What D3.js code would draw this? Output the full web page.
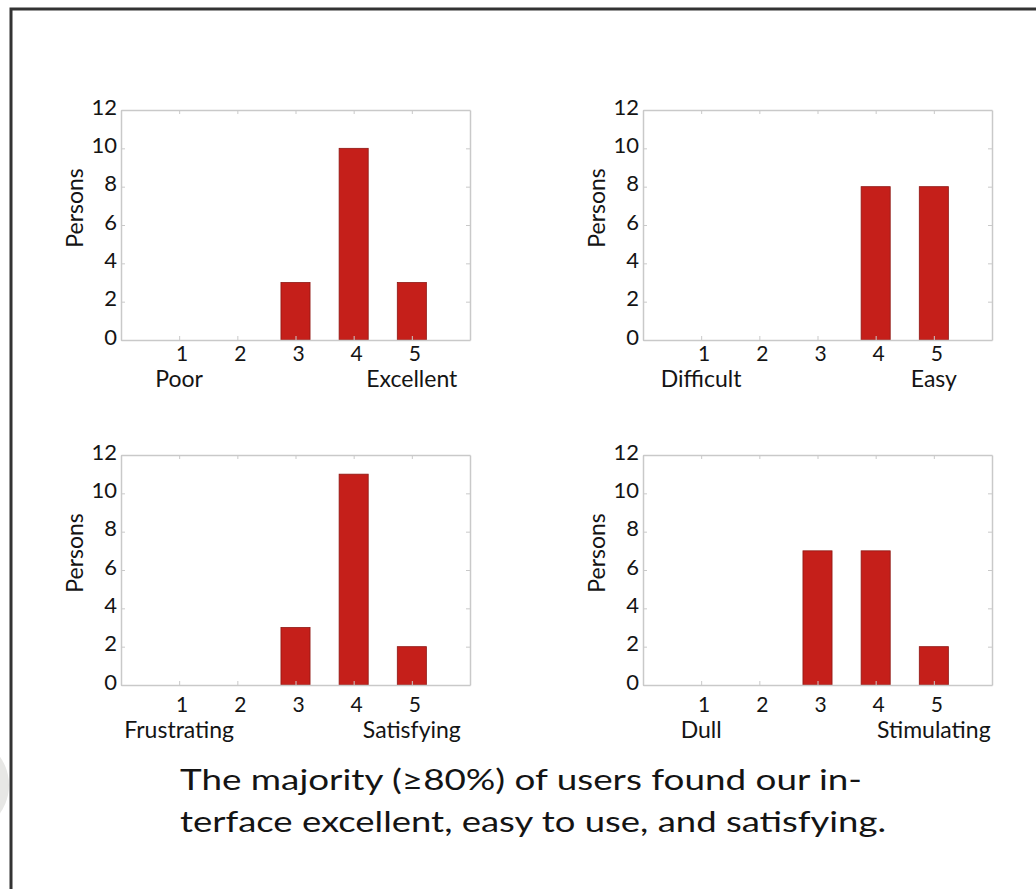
<!DOCTYPE html>
<html>
<head>
<meta charset="utf-8">
<script src="https://cdn.jsdelivr.net/npm/d3@7"></script>
<style>
  html, body { margin: 0; padding: 0; background: #ffffff; }
  svg { display: block; }
</style>
</head>
<body>
<svg id="chart" width="1036" height="890"></svg>
<script>
// ---- data ----
const ratings = [1, 2, 3, 4, 5];
const excellentCounts = [0, 0, 3, 10, 3];
const easyCounts = [0, 0, 0, 8, 8];
const satisfyingCounts = [0, 0, 3, 11, 2];
const stimulatingCounts = [0, 0, 7, 7, 2];
const lowLabels = ["Poor", "Difficult", "Frustrating", "Dull"];
const highLabels = ["Excellent", "Easy", "Satisfying", "Stimulating"];
const yTicks = [0, 2, 4, 6, 8, 10, 12];
const yLabel = "Persons";
const captionLines = [
  "The majority (\u226580%) of users found our in-",
  "terface excellent, easy to use, and satisfying."
];

const seriesList = [excellentCounts, easyCounts, satisfyingCounts, stimulatingCounts];

// ---- layout ----
const svg = d3.select("#chart");
const FONT = "Lato, 'Noto Sans', 'DejaVu Sans', sans-serif";
const textColor = "#141414";
const barColor = "#c51f1a";
const barEdge = "#8e1713";
const axisColor = "#c9c9c9";

// faint decorative circle at the left edge
svg.append("circle").attr("cx", -40).attr("cy", 785).attr("r", 49).attr("fill", "#e7e7e5");

// slide frame
svg.append("path")
  .attr("d", "M11,889 L11,9 L1036,9")
  .attr("fill", "none").attr("stroke", "#333").attr("stroke-width", 3);

const panels = [
  { x: 121, y: 110, numOff: 14, labOff: 39 },
  { x: 643, y: 110, numOff: 14, labOff: 39 },
  { x: 121, y: 455, numOff: 20, labOff: 45 },
  { x: 643, y: 455, numOff: 20, labOff: 45 }
];
const W = 349, H = 230;

const x = d3.scaleLinear().domain([0, 6]).range([0, W]);
const y = d3.scaleLinear().domain([0, 12]).range([H, 0]);
const barW = x(0.5) - x(0);

panels.forEach((p, i) => {
  const g = svg.append("g").attr("transform", `translate(${p.x},${p.y})`);
  const data = ratings.map((r, k) => ({ r, v: seriesList[i][k] }));

  // bars
  g.selectAll("rect.bar").data(data.filter(d => d.v > 0)).enter().append("rect")
    .attr("class", "bar")
    .attr("x", d => x(d.r) - barW / 2)
    .attr("width", barW)
    .attr("y", d => y(d.v))
    .attr("height", d => y(0) - y(d.v))
    .attr("fill", barColor)
    .attr("stroke", barEdge)
    .attr("stroke-width", 0.8);

  // axes: ticks only (inward), labels handled separately
  const axL = d3.axisLeft(y).tickValues(yTicks).tickSizeInner(-4).tickSizeOuter(0).tickFormat("");
  const axR = d3.axisRight(y).tickValues(yTicks).tickSizeInner(-4).tickSizeOuter(0).tickFormat("");
  const axB = d3.axisBottom(x).tickValues(ratings).tickSizeInner(-4).tickSizeOuter(0).tickFormat("");
  const axT = d3.axisTop(x).tickValues(ratings).tickSizeInner(-4).tickSizeOuter(0).tickFormat("");
  [[axL, `translate(0,0)`], [axR, `translate(${W},0)`], [axB, `translate(0,${H})`], [axT, `translate(0,0)`]]
    .forEach(([ax, tr]) => {
      const a = g.append("g").attr("transform", tr).call(ax);
      a.selectAll("path.domain").attr("stroke", axisColor).attr("stroke-width", 1.5);
      a.selectAll(".tick line").attr("stroke", axisColor).attr("stroke-width", 1);
    });

  // y tick labels
  g.selectAll("text.ytl").data(yTicks).enter().append("text")
    .attr("class", "ytl")
    .attr("x", -4)
    .attr("y", d => y(d) - 3)
    .attr("dy", "0.35em")
    .attr("text-anchor", "end")
    .attr("font-family", FONT).attr("font-size", 22)
    .attr("fill", textColor)
    .text(d => d);

  // x tick labels (numbers)
  g.selectAll("text.xtl").data(ratings).enter().append("text")
    .attr("class", "xtl")
    .attr("x", d => x(d) + 3)
    .attr("y", H + p.numOff)
    .attr("dy", "0.35em")
    .attr("text-anchor", "middle")
    .attr("font-family", FONT).attr("font-size", 21)
    .attr("fill", textColor)
    .text(d => d);

  // end labels under ticks 1 and 5
  [[ratings[0], lowLabels[i]], [ratings[ratings.length - 1], highLabels[i]]].forEach(([r, t]) => {
    g.append("text")
      .attr("x", x(r))
      .attr("y", H + p.labOff)
      .attr("dy", "0.35em")
      .attr("text-anchor", "middle")
      .attr("font-family", FONT).attr("font-size", 23)
      .attr("fill", textColor)
      .text(t);
  });

  // y axis title
  g.append("text")
    .attr("transform", `translate(${-46},${H / 2 - 17}) rotate(-90)`)
    .attr("dy", "0.35em")
    .attr("text-anchor", "middle")
    .attr("font-family", FONT).attr("font-size", 23)
    .attr("fill", textColor)
    .text(yLabel);
});

// caption
const capY = [780, 822];
const capLen = [682, 706];
captionLines.forEach((t, k) => {
  svg.append("text")
    .attr("x", 180)
    .attr("y", capY[k])
    .attr("dy", "0.35em")
    .attr("font-family", FONT).attr("font-size", 29)
    .attr("fill", textColor)
    .attr("textLength", capLen[k])
    .attr("lengthAdjust", "spacingAndGlyphs")
    .text(t);
});
</script>
</body>
</html>
